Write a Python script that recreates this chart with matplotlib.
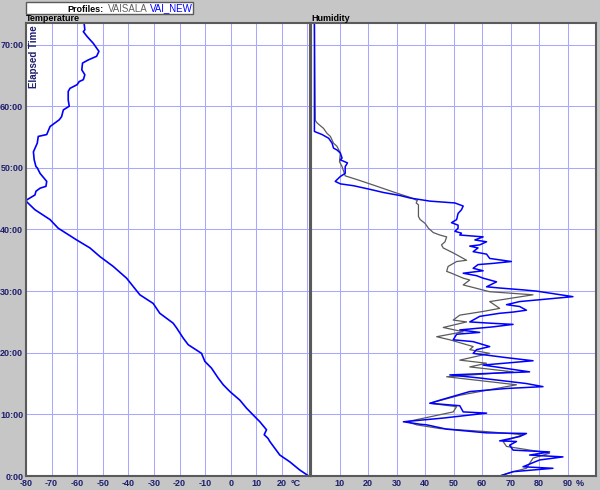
import matplotlib
matplotlib.use('Agg')
import matplotlib.pyplot as plt
from matplotlib.patches import Rectangle

plt.rcParams['font.family'] = ['Liberation Sans', 'DejaVu Sans']

# temperature profile (VAI_NEW): elapsed minutes, degC
temp_time = [0.0, 0.97, 2.3, 3.4, 5.6, 6.1, 6.7, 7.5, 8.8, 9.6, 11.0, 12.3, 13.7,
             14.8, 15.9, 17.5, 18.6, 19.9, 21.3, 22.4, 24.0, 24.8, 26.4, 28.0,
             29.4, 32.1, 34.0, 35.6, 37.0, 38.3, 40.2, 41.6, 43.2, 44.6, 44.8,
             45.6, 46.2, 46.7, 47.0, 47.8, 49.1, 50.0, 50.2, 51.3, 52.6, 54.0,
             55.1, 55.4, 56.7, 57.8, 58.3, 59.4, 60.0, 61.0, 62.4, 62.9, 63.5,
             64.0, 64.3, 65.1, 65.9, 67.0, 67.5, 68.1, 68.9, 70.2, 71.3, 72.1,
             72.4, 73.5]
temp_vals = [30.5, 27.0, 23.1, 19.2, 15.3, 14.6, 13.1, 14.0, 11.4, 9.5, 6.2, 3.6,
             -0.3, -2.9, -4.9, -7.5, -10.1, -11.4, -16.6, -18.6, -21.1, -22.5,
             -27.7, -30.3, -35.5, -40.7, -45.9, -51.1, -55.0, -60.2, -67.4, -70.6,
             -76.5, -80.0, -79.7, -76.5, -76.1, -74.5, -72.2, -71.9, -74.5, -75.6,
             -76.1, -76.8, -77.1, -75.6, -75.2, -71.9, -70.6, -67.0, -66.1, -65.4,
             -63.1, -63.5, -63.5, -62.8, -60.0, -59.2, -57.6, -57.0, -58.2, -57.9,
             -55.7, -52.4, -51.5, -53.7, -56.1, -57.6, -57.0, -57.3]

# humidity VAISALA (grey): elapsed minutes, %
vais_time = [0.0, 0.7, 1.25, 2.9, 3.7, 4.8, 5.6, 6.7, 7.2, 7.7, 8.3, 8.8, 10.4,
             11.25, 11.8, 13.1, 14.8, 16.1, 16.9, 17.7, 18.3, 18.8, 19.9, 20.5,
             21.0, 22.1, 22.6, 23.4, 24.1, 25.0, 25.3, 26.1, 26.7, 27.2, 28.3,
             29.4, 29.9, 31.0, 31.8, 32.1, 32.9, 33.2, 34.0, 34.8, 35.0, 36.2,
             37.0, 37.5, 38.0, 38.8, 39.1, 39.5, 40.2, 41.0, 41.6, 42.1, 44.0,
             44.3, 44.7, 45.2, 45.9, 47.2, 48.1, 48.7, 50.2, 51.0, 52.4, 53.5,
             54.0, 55.1, 55.6, 56.4, 57.3, 57.7, 73.5]
vais_vals = [66.2, 70.9, 75.6, 77.9, 83.7, 68.6, 67.4, 74.4, 61.6, 45.2, 37.1, 33.6,
             49.9, 51.1, 41.7, 52.2, 72.1, 47.6, 70.9, 55.7, 61.6, 52.2, 62.7, 55.7,
             56.9, 48.7, 44.1, 53.4, 46.4, 54.6, 49.9, 52.2, 60.4, 66.2, 62.7,
             77.9, 62.7, 53.4, 55.7, 53.4, 49.3, 47.6, 48.1, 51.1, 54.6, 49.9,
             46.4, 45.8, 47.0, 47.6, 45.2, 42.9, 41.2, 40.0, 38.3, 37.7, 37.7,
             36.9, 37.3, 34.8, 30.1, 21.9, 16.1, 12.0, 10.9, 10.0, 10.3, 9.1,
             7.9, 6.8, 5.6, 4.4, 2.1, 1.5, 1.2]

# humidity VAI_NEW (blue): elapsed minutes, %
new_time = [0.0, 0.7, 1.25, 1.5, 2.6, 3.1, 3.4, 3.9, 4.2, 5.0, 5.6, 5.7, 6.4, 6.9,
            7.0, 7.6, 8.3, 8.4, 8.8, 9.4, 10.2, 10.4, 11.4, 11.8, 12.3, 13.7,
            14.2, 14.5, 15.0, 15.9, 16.4, 16.9, 18.0, 18.7, 19.2, 19.9, 20.5,
            21.0, 21.8, 22.1, 23.0, 23.3, 23.7, 24.2, 24.6, 24.8, 25.0, 25.9,
            26.4, 26.6, 26.9, 27.5, 27.8, 28.3, 28.6, 28.8, 29.1, 30.0, 30.2,
            30.5, 30.7, 31.5, 32.1, 32.5, 32.9, 33.3, 33.7, 34.3, 34.5, 34.8,
            35.3, 36.0, 36.4, 37.0, 37.3, 37.5, 38.0, 38.3, 38.8, 39.1, 39.4,
            39.7, 40.2, 40.7, 41.1, 41.6, 42.6, 43.2, 43.8, 44.3, 44.6, 45.1,
            45.5, 46.0, 46.5, 47.1, 47.4, 47.8, 48.6, 49.1, 50.2, 50.8, 51.3,
            51.6, 52.4, 52.9, 53.2, 54.0, 54.8, 55.4, 55.9, 73.5]
new_vals = [66.2, 70.9, 84.9, 74.4, 80.2, 88.4, 76.7, 83.7, 70.9, 69.7, 72.1, 66.2,
            73.2, 75.6, 61.6, 47.6, 40.6, 38.3, 32.4, 46.4, 61.6, 53.4, 52.2, 41.7,
            45.2, 55.7, 68.6, 81.4, 75.6, 59.2, 48.7, 76.7, 60.4, 77.9, 68.6, 56.9,
            58.1, 62.7, 56.9, 49.9, 51.1, 59.2, 52.2, 63.9, 70.9, 62.7, 55.7, 59.2,
            66.2, 70.9, 75.6, 73.2, 68.6, 73.2, 80.2, 84.9, 91.9, 79.1, 74.4, 66.2,
            61.6, 65.1, 60.4, 58.1, 53.4, 60.4, 56.9, 58.6, 63.9, 70.3, 62.7, 61.6,
            56.9, 58.6, 55.7, 59.2, 61.6, 57.5, 60.4, 52.2, 52.8, 50.5, 51.6, 51.6,
            49.3, 51.1, 51.6, 52.8, 53.4, 50.5, 41.7, 34.8, 31.3, 25.4, 20.8, 14.9,
            10.3, 8.5, 10.3, 12.0, 12.0, 12.8, 10.3, 10.9, 10.3, 9.1, 7.9, 7.4,
            6.2, 3.9, 1.2, 1.2]

time_ticks = [0, 10, 20, 30, 40, 50, 60, 70]
temp_ticks = [-80, -70, -60, -50, -40, -30, -20, -10, 0, 10, 20, 30]
hum_ticks = [0, 10, 20, 30, 40, 50, 60, 70, 80, 90, 100]

BG = '#c6c6c6'
GRID = '#a8a8ff'
FRAME = '#5a5a5a'
NAVY = '#1f1f6e'
FS = 6.5

fig = plt.figure(figsize=(6.0, 4.9), dpi=100, facecolor=BG)
W, H = 600.0, 490.0
bottom = (490 - 476) / H
height = (476 - 23) / H
ax_t = fig.add_axes([26 / W, bottom, 284 / W, height])
ax_h = fig.add_axes([311 / W, bottom, 285 / W, height], sharey=ax_t)

for ax in (ax_t, ax_h):
    ax.set_facecolor('white')
    ax.grid(True, color=GRID, linewidth=0.75)
    ax.set_axisbelow(True)
    for s in ax.spines.values():
        s.set_color(FRAME)
        s.set_linewidth(1.5)
    ax.tick_params(length=0, labelsize=FS, labelcolor=NAVY, pad=2)

ax_t.plot(temp_vals, temp_time, color='#0000ff', linewidth=1.2)
ax_h.plot(vais_vals, vais_time, color='#5a5a5a', linewidth=0.9)
ax_h.plot(new_vals, new_time, color='#0000ff', linewidth=1.1)

ax_t.set_xlim(-80, 31)
ax_t.set_ylim(0, 73.5)
ax_t.set_yticks(time_ticks)
ax_t.set_yticklabels(['%d:00' % v for v in time_ticks], fontweight='bold')
ax_t.set_xticks(temp_ticks)
ax_t.set_xticklabels([str(v) if v < 30 else '' for v in temp_ticks], fontweight='bold')

ax_h.set_xlim(0, 100)
ax_h.set_xticks(hum_ticks)
ax_h.set_xticklabels(['' if v in (0, 100) else str(v) for v in hum_ticks], fontweight='bold')
ax_h.tick_params(axis='y', labelleft=False)

# unit labels next to the last ticks
ax_t.annotate('°C', xy=(20, 0), xycoords=('data', 'axes fraction'), xytext=(6, -2),
              textcoords='offset points', ha='left', va='top', fontsize=FS,
              color=NAVY, fontweight='bold')
ax_h.annotate('%', xy=(90, 0), xycoords=('data', 'axes fraction'), xytext=(6, -2),
              textcoords='offset points', ha='left', va='top', fontsize=FS,
              color=NAVY, fontweight='bold')

ax_t.text(0.012, 0.995, 'Elapsed Time', rotation=90, transform=ax_t.transAxes,
          ha='left', va='top', fontsize=7, color=NAVY, fontweight='bold')

# panel titles
fig.text(26 / W, 1 - 21 / H, 'Temperature', fontsize=FS, fontweight='bold', color='black')
fig.text(311 / W, 1 - 21 / H, 'Humidity', fontsize=FS, fontweight='bold', color='black')

# header box
fig.patches.append(Rectangle((26 / W, 1 - 14 / H), 167 / W, 12 / H, transform=fig.transFigure,
                             facecolor='white', edgecolor=FRAME, linewidth=1.0))
fig.text(67 / W, 1 - 11.5 / H, 'Profiles:', fontsize=6.5, fontweight='bold', color='black')
fig.text(108 / W, 1 - 11.5 / H, 'VAISALA', fontsize=7, color='#606060')
fig.text(150 / W, 1 - 11.5 / H, 'VAI_NEW', fontsize=7, color='#0000ff')

plt.savefig('out.png', dpi=100, facecolor=BG)
